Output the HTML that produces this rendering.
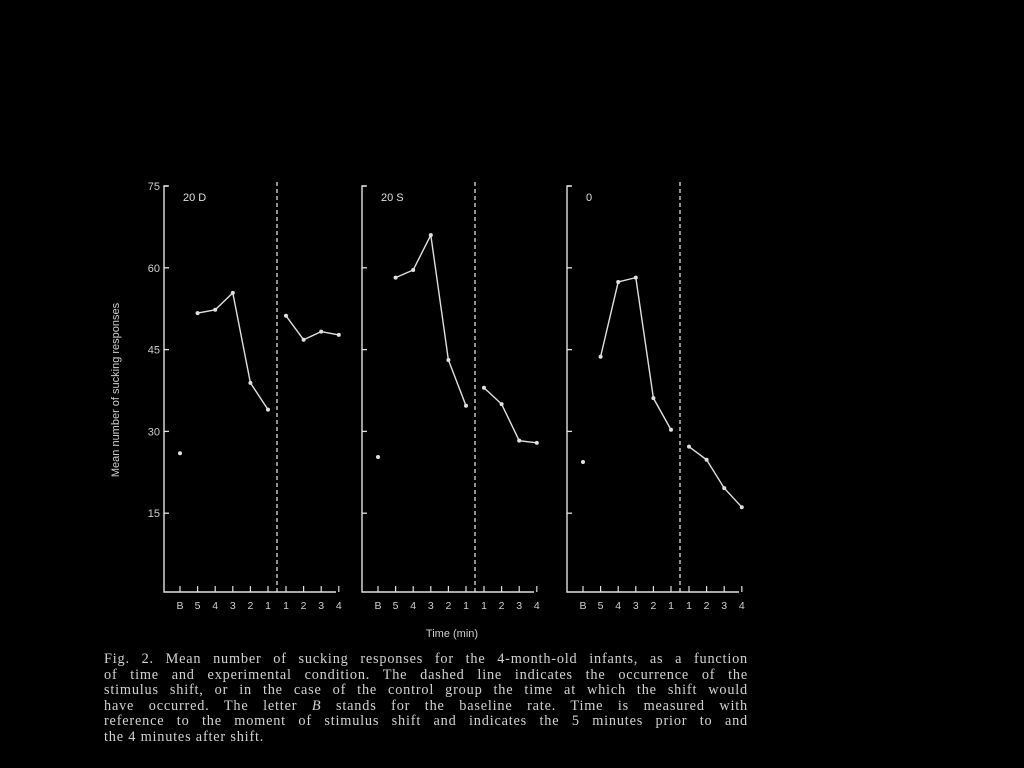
<!DOCTYPE html>
<html><head><meta charset="utf-8"><style>
body{margin:0;background:#000;width:1024px;height:768px;overflow:hidden;position:relative;font-family:"Liberation Sans",sans-serif}
svg{position:absolute;left:0;top:0}
#cap{position:absolute;left:104px;top:652px;width:644px;font-family:"Liberation Serif",serif;font-size:14.3px;line-height:15.6px;color:#d2d2d2;letter-spacing:0.8px}
#cap div{text-align:justify;text-align-last:justify;white-space:nowrap}
#cap div.last{text-align-last:left}
</style></head><body>
<svg width="1024" height="768">
<text x="452" y="637" fill="#cfcfcf" font-size="11" text-anchor="middle">Time (min)</text>
<text transform="translate(119,390) rotate(-90)" fill="#cfcfcf" font-size="11" text-anchor="middle">Mean number of sucking responses</text>
</svg>
<div id="cap">
<div>Fig. 2. Mean number of sucking responses for the 4-month-old infants, as a function</div>
<div>of time and experimental condition. The dashed line indicates the occurrence of the</div>
<div>stimulus shift, or in the case of the control group the time at which the shift would</div>
<div>have occurred. The letter <i>B</i> stands for the baseline rate. Time is measured with</div>
<div>reference to the moment of stimulus shift and indicates the 5 minutes prior to and</div>
<div class="last">the 4 minutes after shift.</div>
</div>
<script>
const panelNames=["20 D","20 S","0"];
const xLabels=["B","5","4","3","2","1","1","2","3","4"];
const yTicks=[15,30,45,60,75];
const baseline=[26,25.3,24.4];
const preShift=[[51.7,52.3,55.4,38.9,34],[58.2,59.6,66,43.1,34.7],[43.7,57.4,58.2,36.1,30.3]];
const postShift=[[51.2,46.8,48.3,47.7],[38,35,28.3,27.9],[27.2,24.8,19.6,16.1]];
const panelLeft=[164,362,567];
const NS="http://www.w3.org/2000/svg";
const svg=document.querySelector('svg');
function y(v){return 595-v*(409/75);}
function mk(t,a){const e=document.createElementNS(NS,t);for(const k in a)e.setAttribute(k,a[k]);svg.appendChild(e);return e;}
function xi(p,i){const L=panelLeft[p];return i<6?L+16+i*17.6:L+122+(i-6)*17.6;}
panelNames.forEach((nm,p)=>{
 const L=panelLeft[p];
 let e=mk('path',{d:`M${L+4},${y(75)} H${L} V592 H${L+172}`,stroke:'#e0e0e0',fill:'none','stroke-width':1.4});
 
 
 yTicks.forEach(t=>{
  const tk=mk('line',{x1:L,x2:L+5,y1:y(t),y2:y(t),stroke:'#e0e0e0','stroke-width':1.3});
  
  
  if(p==0){const tl=mk('text',{x:L-4,y:y(t)+4,fill:'#cfcfcf','font-size':11,'text-anchor':'end'});tl.textContent=t;
  
  }
 });
 xLabels.forEach((lb,i)=>{
  const x=xi(p,i);
  const tk=mk('line',{x1:x,x2:x,y1:592,y2:586,stroke:'#e0e0e0','stroke-width':1.2});
  
  
  const tl=mk('text',{x:x,y:609,fill:'#cfcfcf','font-size':10.5,'text-anchor':'middle'});tl.textContent=lb;
  
  
 });
 const dx=L+113;
 const d=mk('line',{x1:dx,x2:dx,y1:182,y2:592,stroke:'#e0e0e0','stroke-width':1.3,'stroke-dasharray':'4,3'});
 
 
 const t=mk('text',{x:L+19,y:201,fill:'#e0e0e0','font-size':11});t.textContent=nm;
 
 
 const b=mk('circle',{cx:xi(p,0),cy:y(baseline[p]),r:2,fill:'#e0e0e0'});
 
 
 [[preShift[p],1],[postShift[p],6]].forEach(([arr,off])=>{
  const pts=arr.map((v,i)=>xi(p,i+off)+','+y(v)).join(' ');
  const pl=mk('polyline',{points:pts,stroke:'#e0e0e0',fill:'none','stroke-width':1.4});
  
  
  arr.forEach((v,i)=>{const c=mk('circle',{cx:xi(p,i+off),cy:y(v),r:2,fill:'#e0e0e0'});
  
  });
 });
});
</script>
</body></html>
